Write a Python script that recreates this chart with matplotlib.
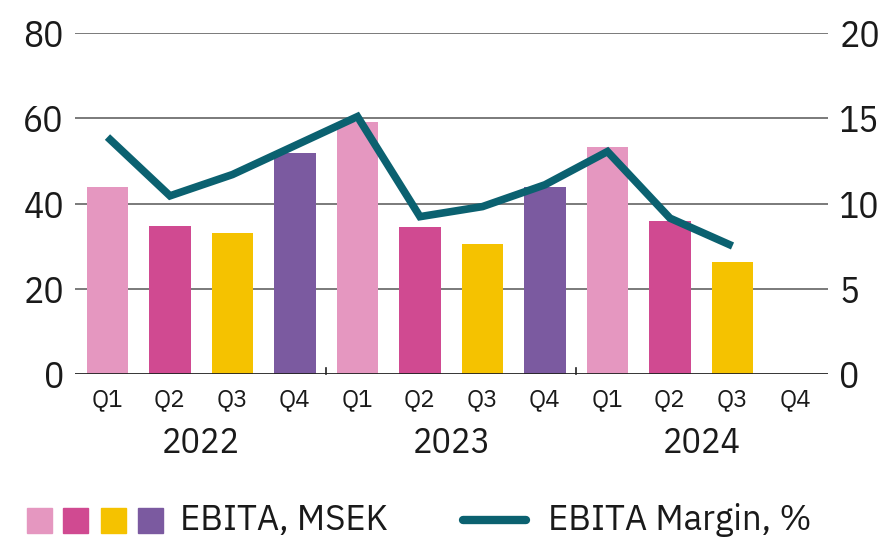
import matplotlib
matplotlib.use("Agg")
import matplotlib.pyplot as plt
from matplotlib import font_manager
from matplotlib.patches import Rectangle
from matplotlib.lines import Line2D
import matplotlib.transforms as mtransforms

names = {f.name for f in font_manager.fontManager.ttflist}
NUMFONT = "IBM Plex Sans Condensed" if "IBM Plex Sans Condensed" in names else "DejaVu Sans"
TXTFONT = "IBM Plex Sans" if "IBM Plex Sans" in names else "DejaVu Sans"
plt.rcParams['font.family'] = [NUMFONT, 'DejaVu Sans']
plt.rcParams['font.weight'] = 400

quarters = ["Q1", "Q2", "Q3", "Q4"] * 3
years = ["2022", "2023", "2024"]
ebita = [43.8, 34.7, 33.0, 51.9, 59.2, 34.4, 30.5, 43.8, 53.2, 36.0, 26.3, None]
margin = [13.9, 10.45, 11.7, 13.4, 15.1, 9.23, 9.82, 11.1, 13.05, 9.14, 7.51]
left_ticks = [0, 20, 40, 60, 80]
right_ticks = [0, 5, 10, 15, 20]

quarter_colors = ["#E597C0", "#D04A91", "#F5C200", "#7B5AA0"]
line_color = "#0B6170"
grid_color = "#7a7a7a"
text_color = "#1a1a1a"

fig = plt.figure(figsize=(8.84, 5.42), dpi=100)
ax = fig.add_axes([0.0848, 0.310, 0.852, 0.629])
ax2 = ax.twinx()

x = list(range(len(quarters)))
for i, v in enumerate(ebita):
    if v is not None:
        ax.bar(i, v, width=0.66, color=quarter_colors[i % 4], zorder=3)

ax.set_ylim(0, 80)
ax2.set_ylim(0, 20)
ax.set_xlim(-0.52, 11.53)
ax.set_yticks(left_ticks)
ax2.set_yticks(right_ticks)
for y in left_ticks[1:]:
    ax.axhline(y, color=grid_color, lw=1.4, zorder=1)
ax.axhline(0, color="#222222", lw=2.0, zorder=4)

ax2.plot(range(len(margin)), margin, color=line_color, lw=5.5, zorder=5,
         solid_joinstyle="miter", solid_capstyle="butt")

for a in (ax, ax2):
    for s in a.spines.values():
        s.set_visible(False)

ax.tick_params(axis='y', length=0, labelsize=27, pad=8, labelcolor=text_color)
ax2.tick_params(axis='y', length=0, labelsize=27, pad=8, labelcolor=text_color)
ax.set_xticks(x)
ax.set_xticklabels(quarters, family=[TXTFONT, 'DejaVu Sans'])
ax.tick_params(axis='x', length=0, labelsize=17.5, pad=10, labelcolor=text_color)

# year separators (small upward ticks)
for xs in (3.5, 7.5):
    ax.plot([xs, xs], [0, 1.4], color="#222222", lw=1.2, zorder=4, clip_on=False)

trans = mtransforms.blended_transform_factory(ax.transData, ax.transAxes)
for k, yr in enumerate(years):
    ax.text(4 * k + 1.5, -0.203, yr, transform=trans, ha="center", va="center",
            fontsize=26, color=text_color)

# legend
W, H = 884.0, 542.0
ly = 520
for j, c in enumerate(quarter_colors):
    x0 = [27, 63, 101, 138][j]
    fig.patches.append(Rectangle((x0 / W, (H - ly - 12.5) / H), 25 / W, 25 / H,
                                 transform=fig.transFigure, color=c))
fig.text(180 / W, (H - ly) / H, "EBITA, MSEK", fontsize=25, va="center", ha="left",
         color=text_color, family=[TXTFONT, 'DejaVu Sans'])
fig.lines.append(Line2D([463 / W, 526 / W], [(H - ly) / H] * 2, transform=fig.transFigure,
                        color=line_color, lw=6, solid_capstyle="round"))
fig.text(548 / W, (H - ly) / H, "EBITA Margin, %", fontsize=25, va="center", ha="left",
         color=text_color, family=[TXTFONT, 'DejaVu Sans'])

fig.savefig("out.png", dpi=100)
